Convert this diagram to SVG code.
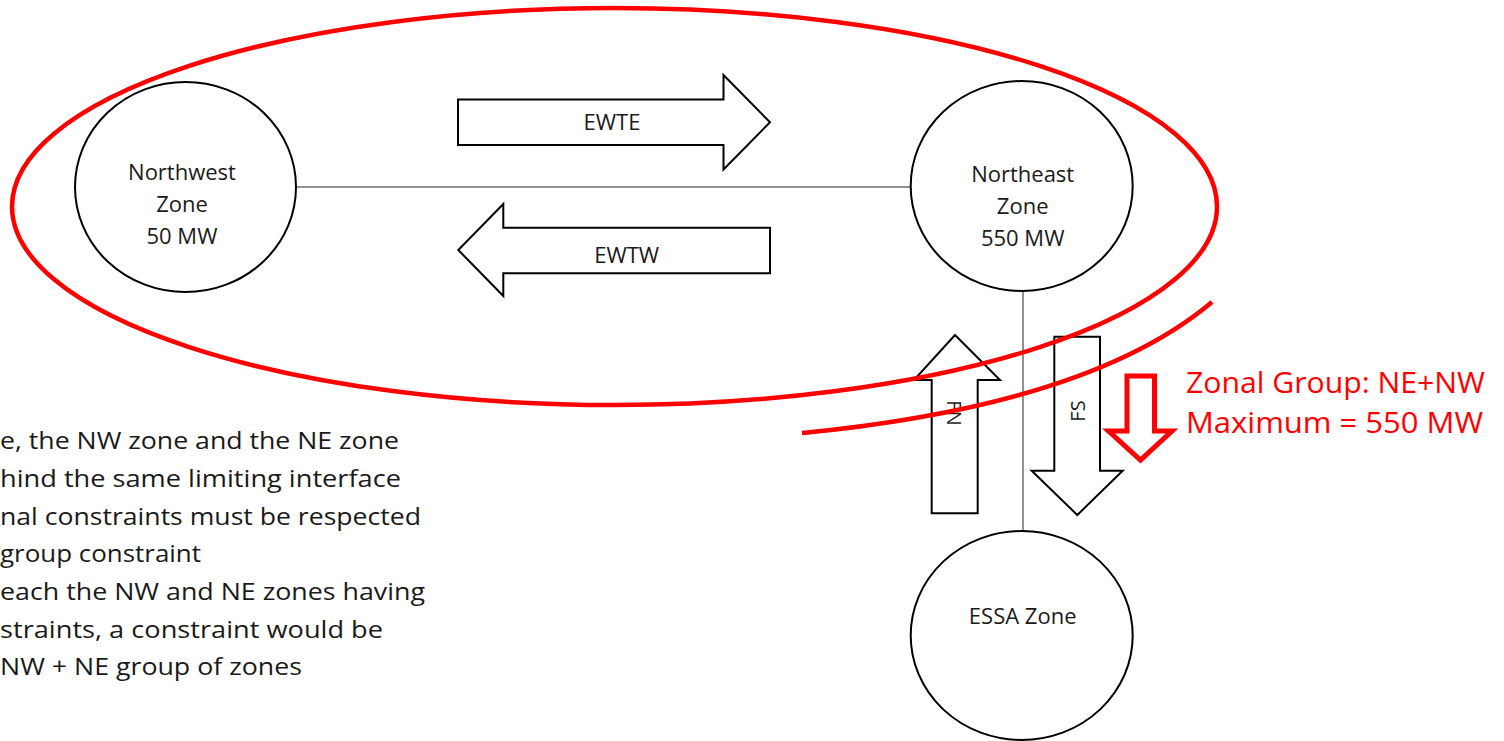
<svg xmlns="http://www.w3.org/2000/svg" width="1504" height="741" viewBox="0 0 1504 741">
<style>
.zone{fill:#fff;stroke:#000;stroke-width:2}
.lbl{font-family:"Open Sans","Liberation Sans",sans-serif;font-size:22px;fill:#1a1a1a;text-anchor:middle}
.flow{fill:#fff;stroke:#000;stroke-width:2;stroke-linejoin:miter}
.conn{stroke:#222;stroke-width:1;fill:none}
.red{fill:none;stroke:#f00;stroke-width:4.5}
.body{font-family:"Open Sans","Liberation Sans",sans-serif;font-size:24.5px;fill:#1a1a1a}
.redtxt{font-family:"Open Sans","Liberation Sans",sans-serif;font-size:30px;fill:#f00}
</style>
<rect width="1504" height="741" fill="#fff"/>
<g id="connectors">
<line class="conn" x1="296" y1="187" x2="910" y2="187"/>
<line class="conn" x1="1023" y1="291" x2="1023" y2="531"/>
</g>
<g id="nw-zone">
<ellipse class="zone" cx="185.5" cy="187" rx="110.5" ry="105"/>
<text class="lbl" x="182" y="180">Northwest</text>
<text class="lbl" x="182" y="212">Zone</text>
<text class="lbl" x="182" y="244">50 MW</text>
</g>
<g id="ne-zone">
<ellipse class="zone" cx="1021.7" cy="186" rx="111" ry="105"/>
<text class="lbl" x="1022.7" y="182">Northeast</text>
<text class="lbl" x="1022.7" y="214">Zone</text>
<text class="lbl" x="1022.7" y="246">550 MW</text>
</g>
<g id="essa-zone">
<ellipse class="zone" cx="1021.7" cy="635.5" rx="111" ry="104.5"/>
<text class="lbl" x="1022.7" y="624">ESSA Zone</text>
</g>
<g id="ewte">
<path class="flow" d="M458,99.5 H723.5 V75 L770,122.3 L723.5,169.5 V145 H458 Z"/>
<text class="lbl" x="612" y="130">EWTE</text>
</g>
<g id="ewtw">
<path class="flow" d="M770,227.7 H503.3 V204 L458.3,250 L503.3,296 V273.3 H770 Z"/>
<text class="lbl" x="626.7" y="263">EWTW</text>
</g>
<g id="fn">
<path class="flow" d="M931.7,513.3 V380 H914 L955,335 L1000,380 H977.7 V513.3 Z"/>
<text class="lbl" style="font-size:20px" transform="translate(947,413) rotate(90)" x="0" y="0">FN</text>
</g>
<g id="fs">
<path class="flow" d="M1054.3,336.7 H1100 V470.7 H1122.7 L1077.3,515 L1031.7,470.7 H1054.3 Z"/>
<text class="lbl" style="font-size:20px" transform="translate(1085,411) rotate(-90)" x="0" y="0">FS</text>
</g>
<g id="zonal-group">
<ellipse class="red" cx="614.5" cy="206.5" rx="602.5" ry="198.5"/>
<path class="red" d="M802,433 Q1090,405 1212,302"/>
<path fill="none" stroke="#f00" stroke-width="5" d="M1127,376 H1154.5 V431 H1172 L1140.5,460 L1108.5,431 H1127 Z"/>
<text class="redtxt" x="1186" y="393" textLength="299" lengthAdjust="spacingAndGlyphs">Zonal Group: NE+NW</text>
<text class="redtxt" x="1186" y="433" textLength="297" lengthAdjust="spacingAndGlyphs">Maximum = 550 MW</text>
</g>
<g id="note">
<text class="body" x="0" y="449" textLength="399" lengthAdjust="spacingAndGlyphs">e, the NW zone and the NE zone</text>
<text class="body" x="0" y="487" textLength="401" lengthAdjust="spacingAndGlyphs">hind the same limiting interface</text>
<text class="body" x="0" y="525" textLength="421" lengthAdjust="spacingAndGlyphs">nal constraints must be respected</text>
<text class="body" x="0" y="562" textLength="201" lengthAdjust="spacingAndGlyphs">group constraint</text>
<text class="body" x="0" y="600" textLength="425" lengthAdjust="spacingAndGlyphs">each the NW and NE zones having</text>
<text class="body" x="0" y="638" textLength="383" lengthAdjust="spacingAndGlyphs">straints, a constraint would be</text>
<text class="body" x="0" y="675" textLength="302" lengthAdjust="spacingAndGlyphs">NW + NE group of zones</text>
</g>
</svg>
